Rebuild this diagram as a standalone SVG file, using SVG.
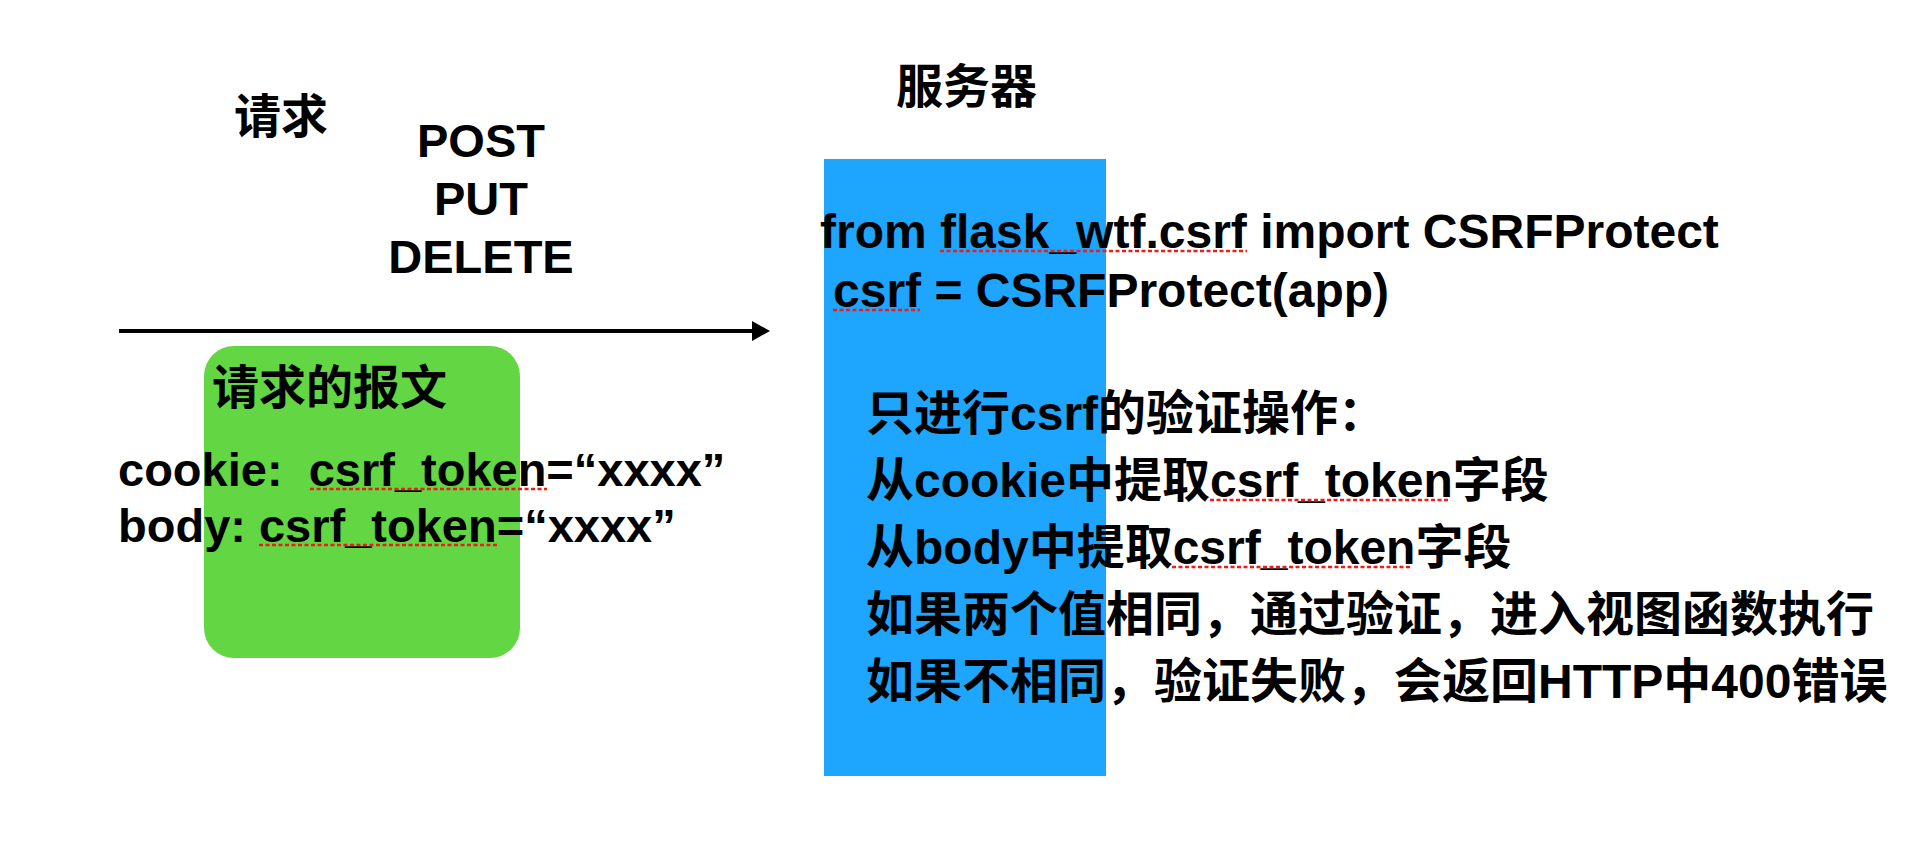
<svg xmlns="http://www.w3.org/2000/svg" width="1928" height="860" viewBox="0 0 1928 860">
  <style>
    .t { font-family: "Liberation Sans", "Noto Sans CJK SC", Arial, sans-serif; font-weight: bold; font-size: 47px; fill: #000; }
    .s { font-size: 48px; }
    .mid { text-anchor: middle; }
    .spell { stroke: #f01c1c; stroke-width: 2.5; stroke-dasharray: 4 2.5; fill: none; }
    .conn { stroke: #000; stroke-width: 4; fill: none; }
  </style>
  <defs>
    <marker id="arrowhead" markerUnits="userSpaceOnUse" markerWidth="18" markerHeight="20" refX="0" refY="10" orient="auto">
      <path d="M0,0 L18,10 L0,20 Z" fill="#000"/>
    </marker>
  </defs>
  <rect width="1928" height="860" fill="#fff"/>

  <g id="request-label">
    <text class="t" x="234" y="133">请求</text>
  </g>

  <g id="methods">
    <text class="t mid" x="481" y="157">POST</text>
    <text class="t mid" x="481" y="215">PUT</text>
    <text class="t mid" x="481" y="273">DELETE</text>
  </g>

  <g id="connectors">
    <line class="conn" x1="119" y1="331" x2="752" y2="331" marker-end="url(#arrowhead)"/>
  </g>

  <g id="request-message">
    <rect x="204" y="346" width="316" height="312" rx="30" ry="30" fill="#63d644"/>
    <text class="t" x="212" y="404">请求的报文</text>
    <text class="t" x="118" y="486" xml:space="preserve">cookie:  csrf_token=“xxxx”</text>
    <text class="t" x="118" y="542">body: csrf_token=“xxxx”</text>
    <line class="spell" x1="310" y1="489" x2="547" y2="489"/>
    <line class="spell" x1="259" y1="545" x2="497" y2="545"/>
  </g>

  <g id="server">
    <text class="t" x="896" y="103">服务器</text>
    <rect x="824" y="159" width="282" height="617" fill="#1ea5fe"/>
    <text class="t s" x="820" y="248">from flask_wtf.csrf import CSRFProtect</text>
    <text class="t s" x="833" y="307">csrf = CSRFProtect(app)</text>
    <line class="spell" x1="940" y1="251" x2="1247" y2="251"/>
    <line class="spell" x1="833" y1="310" x2="920" y2="310"/>
    <text class="t s" x="866" y="430">只进行csrf的验证操作：</text>
    <text class="t s" x="866" y="497">从cookie中提取csrf_token字段</text>
    <text class="t s" x="866" y="564">从body中提取csrf_token字段</text>
    <text class="t s" x="866" y="631">如果两个值相同，通过验证，进入视图函数执行</text>
    <text class="t s" x="866" y="698">如果不相同，验证失败，会返回HTTP中400错误</text>
    <line class="spell" x1="1210" y1="500" x2="1450" y2="500"/>
    <line class="spell" x1="1172" y1="567" x2="1412" y2="567"/>
  </g>
</svg>
